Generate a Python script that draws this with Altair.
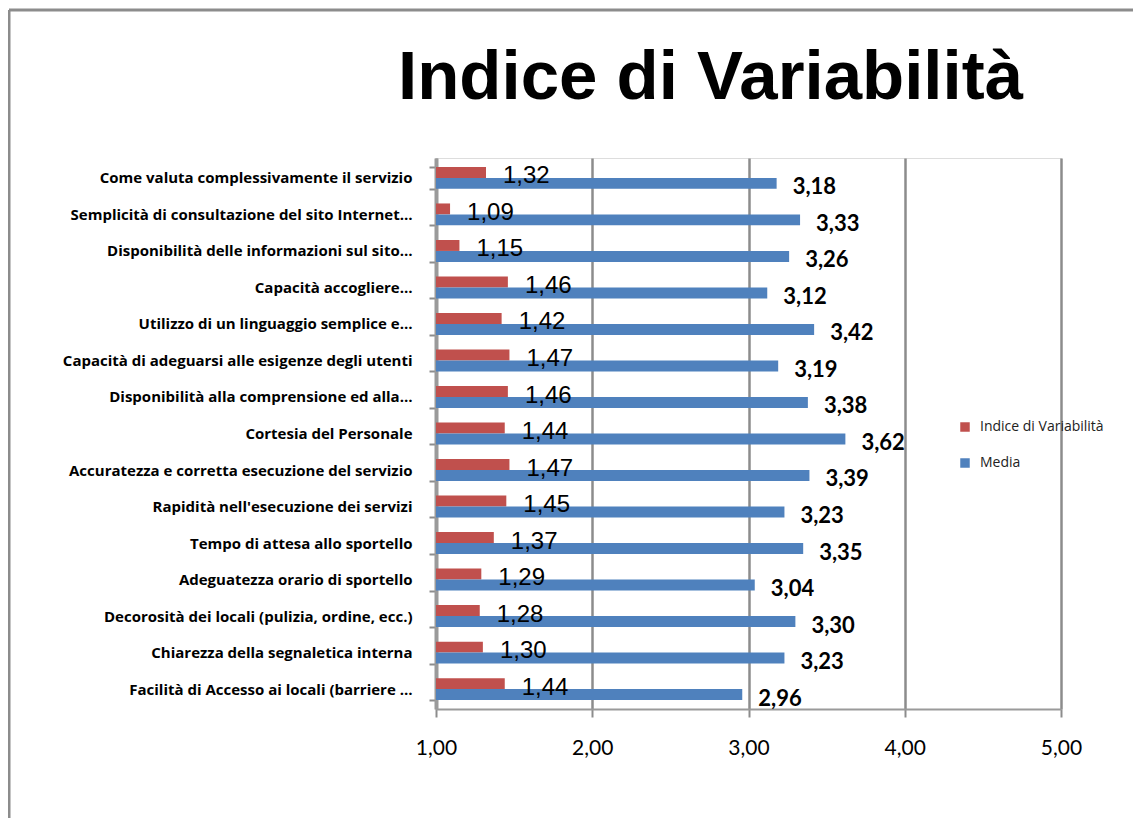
import altair as alt
import pandas as pd

title_text = "Indice di Variabilità"
categories = [
    "Come valuta complessivamente il servizio",
    "Semplicità di consultazione del sito Internet…",
    "Disponibilità delle informazioni sul sito…",
    "Capacità  accogliere…",
    "Utilizzo di un linguaggio semplice e…",
    "Capacità di adeguarsi alle esigenze degli utenti",
    "Disponibilità alla comprensione ed alla…",
    "Cortesia del Personale",
    "Accuratezza e corretta esecuzione del servizio",
    "Rapidità nell'esecuzione dei servizi",
    "Tempo di attesa allo sportello",
    "Adeguatezza orario di sportello",
    "Decorosità dei locali (pulizia, ordine, ecc.)",
    "Chiarezza della segnaletica interna",
    "Facilità  di Accesso ai locali (barriere …",
]
indice = [1.32, 1.09, 1.15, 1.46, 1.42, 1.47, 1.46, 1.44, 1.47, 1.45, 1.37, 1.29, 1.28, 1.30, 1.44]
media = [3.18, 3.33, 3.26, 3.12, 3.42, 3.19, 3.38, 3.62, 3.39, 3.23, 3.35, 3.04, 3.30, 3.23, 2.96]
series_order = ["Indice di Variabilità", "Media"]
series_colors = ["#C0504D", "#4F81BD"]
x_ticks = [1, 2, 3, 4, 5]

rows = []
for c, v in zip(categories, indice):
    rows.append({"category": c, "series": series_order[0], "value": v, "base": 1.0})
for c, v in zip(categories, media):
    rows.append({"category": c, "series": series_order[1], "value": v, "base": 1.0})
df = pd.DataFrame(rows)
one = pd.DataFrame({"t": [title_text]})

W, H = 625, 551
PAD_L, PAD_T, PAD_R, PAD_B = 428, 150, 72, 109

y_enc = alt.Y(
    "category:N",
    sort=categories,
    scale=alt.Scale(paddingInner=0.4, paddingOuter=0.245),
    axis=alt.Axis(
        title=None,
        labelFont="Open Sans",
        labelFontWeight="bold",
        labelFontSize=15,
        labelColor="#000000",
        labelPadding=17,
        labelLimit=420,
        tickSize=7,
        tickColor="#8c8c8c",
        tickWidth=2,
        tickBand="extent",
        domainColor="#9a9a9a",
        domainWidth=4,
        grid=False,
    ),
)
yoff_enc = alt.YOffset("series:N", sort=series_order, scale=alt.Scale(paddingInner=0, paddingOuter=0))
x_enc = alt.X(
    "value:Q",
    scale=alt.Scale(domain=[1, 5], nice=False, zero=False),
    axis=alt.Axis(
        title=None,
        values=x_ticks,
        labelExpr="replace(format(datum.value, '.2f'), '.', ',')",
        labelFont="Lato",
        labelFontSize=21,
        labelColor="#000000",
        labelPadding=20,
        labelFlush=False,
        tickSize=8,
        tickColor="#8c8c8c",
        tickWidth=2,
        domainColor="#9a9a9a",
        domainWidth=2,
        grid=True,
        gridColor="#8c8c8c",
        gridWidth=2.5,
    ),
)

bars = alt.Chart(df).mark_bar().encode(
    y=y_enc,
    yOffset=yoff_enc,
    x=x_enc,
    x2="base:Q",
    color=alt.Color(
        "series:N",
        scale=alt.Scale(domain=series_order, range=series_colors),
        legend=alt.Legend(
            title=None,
            orient="none",
            legendX=522,
            legendY=262,
            symbolType="square",
            symbolSize=90,
            symbolStrokeWidth=0,
            labelFont="Open Sans",
            labelFontSize=14,
            labelColor="#222222",
            rowPadding=22,
            labelOffset=8,
        ),
    ),
)

lab_expr = "replace(format(datum.value, '.2f'), '.', ',')"

red_text = (
    alt.Chart(df)
    .transform_filter(alt.datum.series == series_order[0])
    .transform_calculate(label=lab_expr)
    .mark_text(align="left", baseline="middle", dx=17, dy=4, fontSize=24, font="Liberation Sans", color="#000000")
    .encode(y=alt.Y("category:N", sort=categories), yOffset=alt.YOffset("series:N", sort=series_order), x="value:Q", text="label:N")
)
blue_text = (
    alt.Chart(df)
    .transform_filter(alt.datum.series == series_order[1])
    .transform_calculate(label=lab_expr)
    .mark_text(align="left", baseline="middle", dx=16, dy=4, fontSize=22, font="Lato", fontWeight="bold", color="#000000")
    .encode(y=alt.Y("category:N", sort=categories), yOffset=alt.YOffset("series:N", sort=series_order), x="value:Q", text="label:N")
)

frame_left = alt.Chart(one).mark_rule(color="#8c8c8c", strokeWidth=3).encode(
    x=alt.value(-427), y=alt.value(-148), y2=alt.value(H + PAD_B)
)
frame_top = alt.Chart(one).mark_rule(color="#8c8c8c", strokeWidth=3).encode(
    x=alt.value(-427), x2=alt.value(W + PAD_R), y=alt.value(-148)
)
title_mark = alt.Chart(one).mark_text(
    align="left", baseline="alphabetic", font="Liberation Sans", fontSize=69, fontWeight="bold", color="#000000"
).encode(x=alt.value(-38), y=alt.value(-59), text="t:N")

chart = (
    alt.layer(frame_left, frame_top, title_mark, bars, red_text, blue_text)
    .properties(
        width=W,
        height=H,
        autosize=alt.AutoSizeParams(type="none"),
        padding={"left": PAD_L, "top": PAD_T, "right": PAD_R, "bottom": PAD_B},
    )
    .configure_view(stroke="transparent")
    .configure(background="white")
)

chart.save("out.html", embed_options={"renderer": "svg", "actions": False})
